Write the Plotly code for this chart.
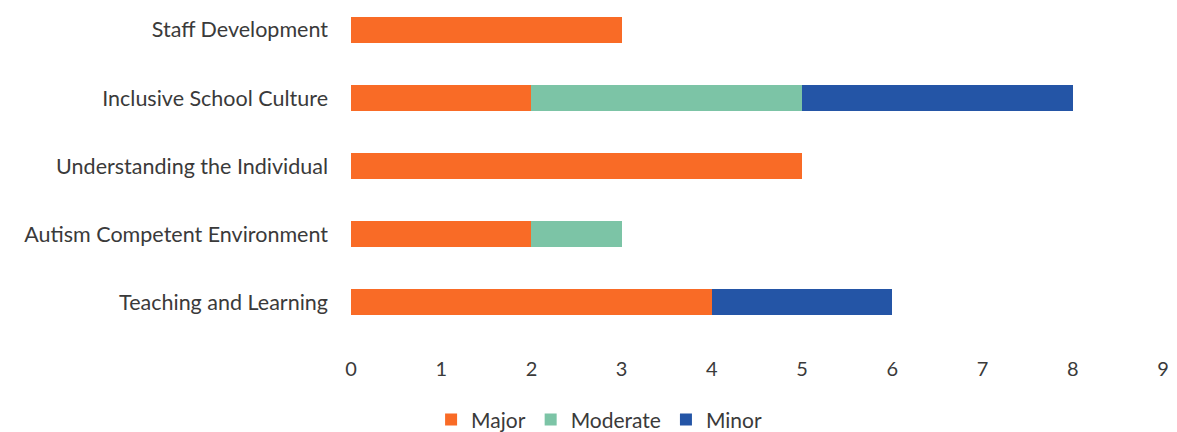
import plotly.graph_objects as go

categories = ["Teaching and Learning", "Autism Competent Environment",
              "Understanding the Individual", "Inclusive School Culture",
              "Staff Development"]
major = [4, 2, 5, 2, 3]
moderate = [0, 1, 0, 3, 0]
minor = [2, 0, 0, 3, 0]
x_ticks = [0, 1, 2, 3, 4, 5, 6, 7, 8, 9]

series = [("Major", major, "#F96B26"), ("Moderate", moderate, "#7CC4A6"), ("Minor", minor, "#2455A6")]

fig = go.Figure()
for name, vals, col in series:
    fig.add_trace(go.Bar(y=categories, x=vals, name=name, orientation="h",
                         marker=dict(color=col, line=dict(width=0)), hoverinfo="x+name"))

font = "Lato, Calibri, sans-serif"
fig.update_layout(
    barmode="stack", bargap=0.62,
    width=1177, height=432,
    margin=dict(l=351, r=14, t=0, b=87),
    paper_bgcolor="white", plot_bgcolor="white",
    font=dict(family=font, size=20, color="#3A3A3A"),
    xaxis=dict(range=[0, 9], tickvals=x_ticks, showgrid=False, zeroline=False,
               showline=False, ticks="", ticklabelstandoff=10,
               tickfont=dict(size=20, color="#3A3A3A")),
    yaxis=dict(range=[-0.63, 4.44], showgrid=False, zeroline=False, showline=False,
               ticks="", ticklabelstandoff=22, tickfont=dict(size=21.5, color="#3A3A3A")),
    showlegend=True,
    legend=dict(orientation="h", xref="container", yref="container", x=0.509, y=0.028,
                xanchor="center", yanchor="middle", font=dict(size=21, color="#3A3A3A"),
                traceorder="normal"),
)
fig.write_html("out.html")
